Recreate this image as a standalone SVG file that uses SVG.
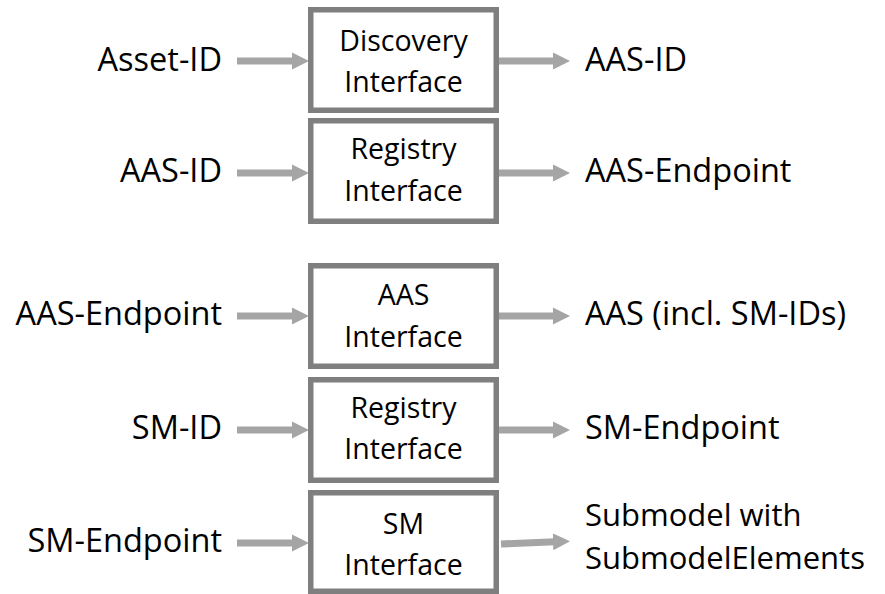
<svg xmlns="http://www.w3.org/2000/svg" width="885" height="594" viewBox="0 0 885 594">
<style>
.box{fill:#fff;stroke:#7f7f7f;stroke-width:5.5}
.bt{font-family:"Open Sans","Liberation Sans",sans-serif;font-size:28.5px;fill:#000;text-anchor:middle}
.lbl{font-family:"Open Sans","Liberation Sans",sans-serif;font-size:32.5px;fill:#000}
.sm{font-size:31px}
.l{text-anchor:end}
.arr{stroke:#a5a5a5;stroke-width:7;fill:none;marker-end:url(#ah)}
</style>
<defs>
<marker id="ah" markerUnits="userSpaceOnUse" markerWidth="18" markerHeight="18" refX="8" refY="9" viewBox="0 0 18 18" orient="auto">
<path d="M0,0.5 L17,9 L0,17.5 z" fill="#a5a5a5"/>
</marker>
</defs>
<rect width="885" height="594" fill="#fff"/>
<g id="connectors">
<line class="arr" x1="237" y1="61" x2="300" y2="61"/>
<line class="arr" x1="499" y1="61" x2="561" y2="61"/>
<line class="arr" x1="237" y1="173" x2="300" y2="173"/>
<line class="arr" x1="499" y1="173" x2="561" y2="173"/>
<line class="arr" x1="237" y1="316" x2="300" y2="316"/>
<line class="arr" x1="499" y1="316" x2="561" y2="316"/>
<line class="arr" x1="237" y1="430" x2="300" y2="430"/>
<line class="arr" x1="499" y1="430" x2="561" y2="430"/>
<line class="arr" x1="237" y1="543" x2="300" y2="543"/>
<line class="arr" x1="501" y1="544" x2="561" y2="541.5"/>
</g>
<g id="discovery">
<rect class="box" x="310.75" y="9.75" width="185.5" height="100.5"/>
<text class="bt" x="403.5" y="51">Discovery</text>
<text class="bt" x="403.5" y="92">Interface</text>
</g>
<g id="registry1">
<rect class="box" x="310.75" y="120.75" width="185.5" height="100.5"/>
<text class="bt" x="403.5" y="159">Registry</text>
<text class="bt" x="403.5" y="201">Interface</text>
</g>
<g id="aas">
<rect class="box" x="310.75" y="265.75" width="185.5" height="100.5"/>
<text class="bt" x="403.5" y="305">AAS</text>
<text class="bt" x="403.5" y="347">Interface</text>
</g>
<g id="registry2">
<rect class="box" x="310.75" y="379.75" width="185.5" height="100.5"/>
<text class="bt" x="403.5" y="418">Registry</text>
<text class="bt" x="403.5" y="459">Interface</text>
</g>
<g id="sm">
<rect class="box" x="310.75" y="492.75" width="185.5" height="98.5"/>
<text class="bt" x="403.5" y="534">SM</text>
<text class="bt" x="403.5" y="575">Interface</text>
</g>
<g id="in-labels">
<text class="lbl l" x="222" y="71">Asset-ID</text>
<text class="lbl l" x="222" y="182">AAS-ID</text>
<text class="lbl l" x="222" y="325">AAS-Endpoint</text>
<text class="lbl l" x="222" y="439">SM-ID</text>
<text class="lbl l" x="222" y="552">SM-Endpoint</text>
</g>
<g id="out-labels">
<text class="lbl" x="585" y="71">AAS-ID</text>
<text class="lbl" x="585" y="182">AAS-Endpoint</text>
<text class="lbl" x="585" y="325">AAS (incl. SM-IDs)</text>
<text class="lbl" x="585" y="439">SM-Endpoint</text>
<text class="lbl sm" x="585" y="526">Submodel with</text>
<text class="lbl sm" x="585" y="569">SubmodelElements</text>
</g>
</svg>
